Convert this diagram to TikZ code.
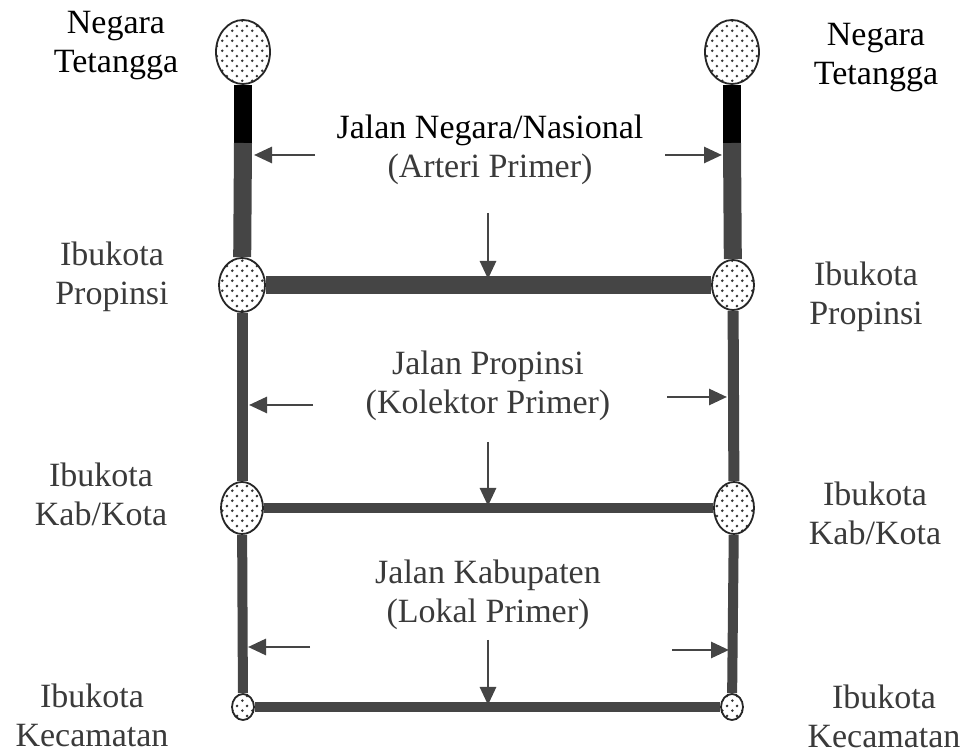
\documentclass[tikz,border=0pt]{standalone}
\usepackage{fontspec}
\setmainfont{Liberation Serif}
\usetikzlibrary{arrows.meta,patterns,shapes.geometric}
\definecolor{road}{HTML}{454545}
\definecolor{txt}{HTML}{3A3A3A}
\pgfdeclarepatternformonly{sdots}{\pgfqpoint{0pt}{0pt}}{\pgfqpoint{5pt}{5pt}}{\pgfqpoint{5pt}{5pt}}{%
  \pgfpathcircle{\pgfqpoint{1.25pt}{1.25pt}}{0.75pt}%
  \pgfpathcircle{\pgfqpoint{3.75pt}{3.75pt}}{0.75pt}%
  \pgfusepath{fill}}
\begin{document}
\begin{tikzpicture}[x=0.5pt,y=-0.5pt,
  city/.style={ellipse, draw=black!85, line width=0.9pt, inner sep=0pt,
    preaction={fill=white}, pattern=sdots, pattern color=black!80},
  lbl/.style={align=center, text=txt, font=\fontsize{17}{19.5}\selectfont},
  lblk/.style={lbl, text=black},
  roadA/.style={draw=road, line width=9pt},
  roadB/.style={draw=road, line width=5.5pt},
  roadC/.style={draw=road, line width=5pt},
  arr/.style={-{Triangle[length=9pt,width=8pt]}, line width=1.4pt, draw=road}]
\useasboundingbox (0,0) rectangle (965,753);

% cities
\node[city, minimum width=27pt, minimum height=32pt] (tl) at (243,52) {};
\node[city, minimum width=27pt, minimum height=32pt] (tr) at (732,52) {};
\node[city, minimum width=23pt, minimum height=27pt] (pl) at (242,285) {};
\node[city, minimum width=21pt, minimum height=25pt] (pr) at (733,285) {};
\node[city, minimum width=21pt, minimum height=26pt] (kl) at (242,508) {};
\node[city, minimum width=20pt, minimum height=26pt] (kr) at (734,508) {};
\node[city, minimum width=11pt, minimum height=13pt] (cl) at (243,707) {};
\node[city, minimum width=11pt, minimum height=13pt] (cr) at (732,707) {};

% roads
\coordinate (tlb) at (243,143);
\coordinate (trb) at (732,143);
\draw[roadA, draw=black] (tl) -- (tlb);
\draw[roadA] (tlb) -- (pl);
\draw[roadA, draw=black] (tr) -- (trb);
\draw[roadA] (trb) -- (pr);
\draw[roadA] (pl) -- (pr);
\draw[roadB] (pl) -- (kl);
\draw[roadB] (pr) -- (kr);
\draw[roadC] (kl) -- (kr);
\draw[roadC] (kl) -- (cl);
\draw[roadC] (kr) -- (cr);
\draw[roadC] (cl) -- (cr);

% labels
\node[lblk] (nl) at (116,46) {Negara\\Tetangga};
\node[lblk] (nr) at (876,58) {Negara\\Tetangga};
\node[lbl] (ipl) at (112,277) {Ibukota\\Propinsi};
\node[lbl] (ipr) at (866,297) {Ibukota\\Propinsi};
\node[lbl] (ikl) at (101,494) {Ibukota\\Kab/Kota};
\node[lbl] (ikr) at (875,513) {Ibukota\\Kab/Kota};
\node[lbl] (icl) at (92,715) {Ibukota\\Kecamatan};
\node[lbl] (icr) at (884,716) {Ibukota\\Kecamatan};
\node[lbl] (j1) at (490,150) {\textcolor{black}{Jalan Negara/Nasional}\\(Arteri Primer)};
\node[lbl] (j2) at (488,386) {Jalan Propinsi\\(Kolektor Primer)};
\node[lbl] (j3) at (488,595) {Jalan Kabupaten\\(Lokal Primer)};

% arrows
\coordinate (a1s) at (315,155); \coordinate (a1e) at (254,155);
\coordinate (a2s) at (665,155); \coordinate (a2e) at (722,155);
\coordinate (a3s) at (488,213); \coordinate (a3e) at (488,279);
\coordinate (b1s) at (313,405); \coordinate (b1e) at (249,405);
\coordinate (b2s) at (667,397); \coordinate (b2e) at (727,397);
\coordinate (b3s) at (488,442); \coordinate (b3e) at (488,506);
\coordinate (c1s) at (310,647); \coordinate (c1e) at (248,647);
\coordinate (c2s) at (672,650); \coordinate (c2e) at (729,650);
\coordinate (c3s) at (488,640); \coordinate (c3e) at (488,705);
\draw[arr] (a1s) -- (a1e);
\draw[arr] (a2s) -- (a2e);
\draw[arr] (a3s) -- (a3e);
\draw[arr] (b1s) -- (b1e);
\draw[arr] (b2s) -- (b2e);
\draw[arr] (b3s) -- (b3e);
\draw[arr] (c1s) -- (c1e);
\draw[arr] (c2s) -- (c2e);
\draw[arr] (c3s) -- (c3e);
\end{tikzpicture}
\end{document}
